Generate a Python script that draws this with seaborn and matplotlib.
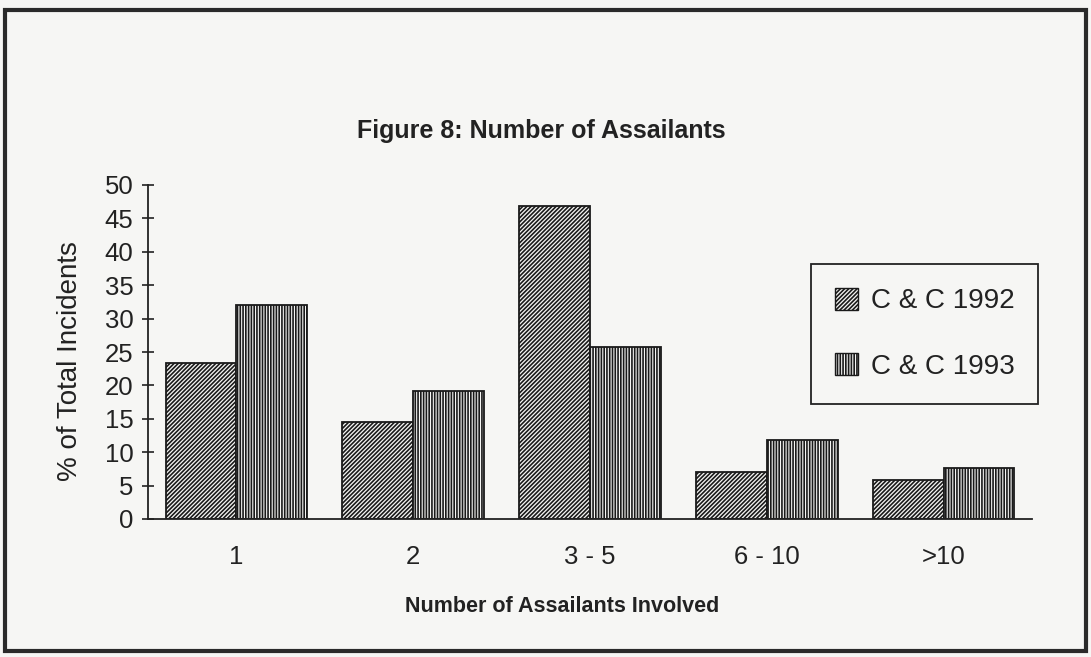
import matplotlib
matplotlib.use("Agg")
import matplotlib.pyplot as plt
from matplotlib.patches import Patch, Rectangle
import seaborn as sns
import pandas as pd

categories = ["1", "2", "3 - 5", "6 - 10", ">10"]
series_names = ["C & C 1992", "C & C 1993"]
values_1992 = [23.3, 14.5, 46.9, 7.0, 5.8]
values_1993 = [32.0, 19.2, 25.7, 11.8, 7.7]
y_ticks = [0, 5, 10, 15, 20, 25, 30, 35, 40, 45, 50]

title = "Figure 8: Number of Assailants"
x_label = "Number of Assailants Involved"
y_label = "% of Total Incidents"

df = pd.DataFrame({
    "cat": categories * 2,
    "series": [series_names[0]] * len(categories) + [series_names[1]] * len(categories),
    "val": values_1992 + values_1993,
})

sns.set_theme(style="white")
plt.rcParams["font.family"] = ["Liberation Sans", "DejaVu Sans"]
plt.rcParams["hatch.linewidth"] = 1.2
plt.rcParams["hatch.color"] = "#1a1a1a"

bg = "#f6f6f4"
ink = "#222222"
fig = plt.figure(figsize=(10.91, 6.57), dpi=100, facecolor=bg)
ax = fig.add_axes([148 / 1091, 1 - 519 / 657, 884 / 1091, 334 / 657])
ax.set_facecolor(bg)

sns.barplot(data=df, x="cat", y="val", hue="series", order=categories,
            hue_order=series_names, palette=[bg, bg], edgecolor="#1a1a1a",
            linewidth=1.3, width=0.8, ax=ax, legend=False)

hatches = ["////////", "||||||"]
for cont, h in zip(ax.containers, hatches):
    for bar in cont:
        bar.set_hatch(h)
        bar.set_edgecolor("#1a1a1a")

ax.set_ylim(0, 50)
ax.set_xlim(-0.5, len(categories) - 0.5)
ax.set_yticks(y_ticks)
ax.set_yticklabels([str(t) for t in y_ticks], fontsize=18.5, color=ink)

# major ticks at category boundaries, labels on minor ticks at centers
ax.set_xticks([i - 0.5 for i in range(len(categories) + 1)])
ax.set_xticklabels([""] * (len(categories) + 1))
ax.set_xticks(range(len(categories)), minor=True)
ax.set_xticklabels(categories, minor=True, fontsize=18.5, color=ink)
ax.tick_params(axis="x", which="minor", length=0, pad=19)
ax.tick_params(axis="x", which="major", direction="inout", length=9, width=1.2, color=ink)
ax.tick_params(axis="y", direction="inout", length=9, width=1.2, color=ink, pad=6, left=True)

for s in ["top", "right"]:
    ax.spines[s].set_visible(False)
for s in ["left", "bottom"]:
    ax.spines[s].set_color(ink)
    ax.spines[s].set_linewidth(1.3)

ax.set_xlabel(x_label, fontsize=15.5, fontweight="bold", color=ink, va="center")
ax.xaxis.set_label_coords((562 - 148) / 884, (519 - 606) / 334)
ax.set_ylabel(y_label, fontsize=20, color=ink, va="center")
ax.yaxis.set_label_coords((70 - 148) / 884, (519 - 361) / 334)

fig.text(541 / 1091, 1 - 131 / 657, title, fontsize=18, fontweight="bold",
         ha="center", va="center", color=ink)

handles = [Patch(facecolor=bg, edgecolor="#1a1a1a", hatch=h, linewidth=1.0) for h in hatches]
leg = fig.legend(handles, series_names, loc="upper left",
                 bbox_to_anchor=(811 / 1091, 1 - 264 / 657), fontsize=20,
                 frameon=True, fancybox=False, framealpha=1, edgecolor=ink,
                 facecolor=bg, borderpad=0.85, labelspacing=1.4,
                 handlelength=0.85, handleheight=0.85, handletextpad=0.45,
                 borderaxespad=0)
leg.get_frame().set_linewidth(1.3)
for t in leg.get_texts():
    t.set_color(ink)

fig.patches.append(Rectangle((5 / 1091, 1 - 651 / 657), 1081 / 1091, 641 / 657,
                             transform=fig.transFigure, fill=False,
                             edgecolor="#2a2a2a", linewidth=3))

fig.savefig("out.png", dpi=100, facecolor=bg)
